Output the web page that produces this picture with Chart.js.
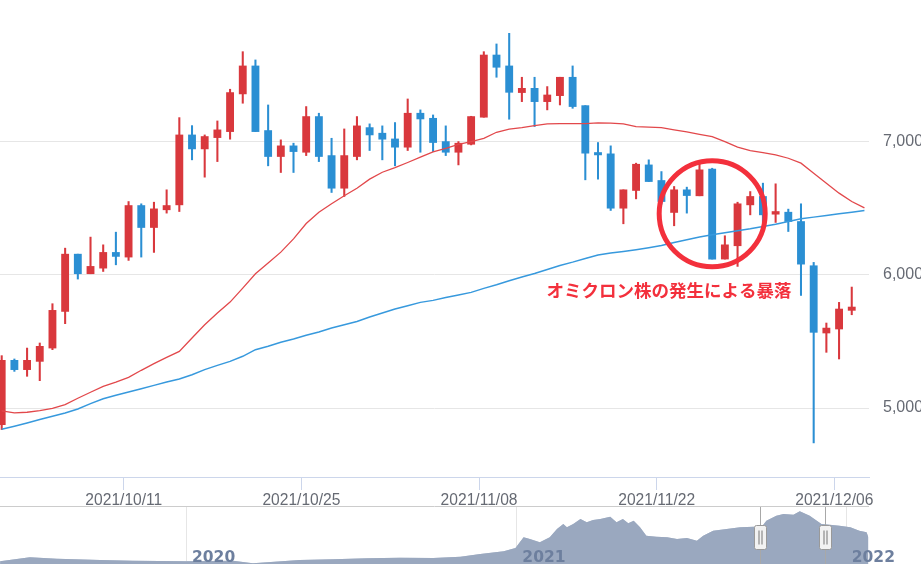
<!DOCTYPE html>
<html lang="ja">
<head>
<meta charset="utf-8">
<title>BTC/JPY 日足</title>
<script src="https://cdn.jsdelivr.net/npm/chart.js@4.4.1/dist/chart.umd.min.js"></script>
<style>
  html, body { margin: 0; padding: 0; background: #fff; width: 921px; height: 564px; overflow: hidden; }
  #main { position: absolute; left: 0; top: 0; }
  #nav { position: absolute; left: 0; top: 506px; }
</style>
</head>
<body>
<canvas id="main" width="940" height="508" style="width:940px;height:508px"></canvas>
<canvas id="nav" width="921" height="58" style="width:921px;height:58px"></canvas>
<script>
// 日付（カテゴリ）
const dates = [
  '2021/10/01','2021/10/02','2021/10/03','2021/10/04','2021/10/05','2021/10/06','2021/10/07','2021/10/08','2021/10/09','2021/10/10',
  '2021/10/11','2021/10/12','2021/10/13','2021/10/14','2021/10/15','2021/10/16','2021/10/17','2021/10/18','2021/10/19','2021/10/20',
  '2021/10/21','2021/10/22','2021/10/23','2021/10/24','2021/10/25','2021/10/26','2021/10/27','2021/10/28','2021/10/29','2021/10/30',
  '2021/10/31','2021/11/01','2021/11/02','2021/11/03','2021/11/04','2021/11/05','2021/11/06','2021/11/07','2021/11/08','2021/11/09',
  '2021/11/10','2021/11/11','2021/11/12','2021/11/13','2021/11/14','2021/11/15','2021/11/16','2021/11/17','2021/11/18','2021/11/19',
  '2021/11/20','2021/11/21','2021/11/22','2021/11/23','2021/11/24','2021/11/25','2021/11/26','2021/11/27','2021/11/28','2021/11/29',
  '2021/11/30','2021/12/01','2021/12/02','2021/12/03','2021/12/04','2021/12/05','2021/12/06','2021/12/07','2021/12/08'
];

// ローソク足（千円）
const opens  = [4875,5358,5288,5350,5450,5725,6155,6008,6050,6168, 6133,6520,6355,6488,6525,7050,6945,7030,7075,7358,
                7568,7083,6888,6968,6920,7188,6895,6650,6888,7105, 7063,7020,6958,7213,7175,7000,6920,6980,7183,7650,
                7568,7368,7400,7300,7345,7483,7270,6918,6908,6500, 6633,6825,6708,6468,6638,6593,6793,6118,6218,6525,
                6588,6455,6470,6400,6068,5563,5593,5733];
const highs  = [5393,5368,5450,5488,5783,6200,6155,6283,6225,6320, 6550,6533,6545,6638,7180,7120,7050,7155,7393,7675,
                7613,7275,7013,6988,7263,7213,7025,7095,7188,7133, 7118,7143,7320,7238,7200,7118,7000,7190,7675,7733,
                7813,7483,7483,7413,7483,7568,7270,6993,6968,6638, 6838,6863,6775,6663,6658,6850,6800,6293,6545,6625,
                6688,6683,6493,6533,6093,5638,5793,5908];
const lows   = [4838,5275,5238,5205,5438,5633,5968,6008,6025,6075, 6108,6133,6168,6463,6475,6863,6733,6850,7018,7288,
                7075,6818,6768,6768,6895,6850,6618,6588,6863,6933, 6863,6818,6933,6920,6925,6895,6825,6975,7183,7483,
                7168,7300,7113,7238,7275,7250,6713,6718,6483,6383, 6570,6700,6530,6368,6463,6593,6118,6118,6063,6450,
                6393,6393,6325,5845,4738,5418,5368,5700];
const closes = [5358,5288,5358,5463,5733,6155,6008,6063,6168,6138, 6520,6355,6495,6520,7050,6945,7038,7088,7368,7568,
                7075,6888,6968,6925,7188,6888,6650,6895,7118,7050, 7018,6958,7213,7170,6993,6920,6988,7188,7650,7558,
                7370,7400,7300,7350,7483,7263,6913,6900,6500,6638, 6830,6700,6550,6638,6595,6788,6118,6225,6533,6588,
                6450,6475,6400,6080,5568,5600,5743,5758];

// 移動平均線
const ma25 = [4978,4963,4968,4980,4998,5025,5073,5118,5163,5195, 5230,5283,5333,5380,5425,5525,5625,5713,5795,5900,
              6008,6088,6170,6270,6385,6470,6533,6593,6650,6718, 6770,6805,6843,6883,6923,6950,6980,7000,7025,7070,
              7093,7105,7120,7133,7135,7135,7135,7140,7138,7133, 7113,7108,7105,7088,7073,7055,7038,7000,6958,6933,
              6918,6900,6875,6838,6763,6688,6613,6550,6503];
const ma75 = [4840,4863,4888,4913,4938,4963,4993,5033,5070,5095, 5120,5145,5170,5195,5218,5250,5288,5320,5350,5388,
              5438,5463,5493,5518,5546,5570,5600,5625,5650,5683, 5713,5743,5768,5793,5808,5830,5848,5868,5898,5925,
              5955,5983,6010,6040,6070,6095,6123,6148,6163,6175, 6188,6203,6220,6243,6263,6283,6300,6315,6330,6345,
              6363,6380,6400,6420,6433,6445,6458,6470,6483];

// 軸の目盛り
const xTickLabels = ['2021/10/11','2021/10/25','2021/11/08','2021/11/22','2021/12/06'];
const yTickValues = [5000, 6000, 7000];

// ナビゲーター（2020/01/01 からの日数, 終値の概算）
const navDays   = [-206,-173,-143,-95,-59,0,52,74,126,163, 201,237,274,304,326,352,365,374,381,392,
                   403,411,418,422,429,437,444,451,459,470, 477,484,490,496,503,510,521,533,544,555,
                   566,573,584,599,614,629,636,643,654,662, 673,680,691,704,713,724,736,746,754,756];
const navValues = [378,938,742,560,462,378,462,98,560,658, 798,882,840,1022,1400,1778,2240,3738,3500,3038,
                   3738,4900,5600,5138,5600,6300,5838,6160,6300,6622, 5838,6300,5698,6062,5138,3962,3822,3738,3500,3640,
                   3262,3962,4662,4900,5138,5222,4900,6062,6762,7000, 6902,7378,6762,5600,5502,5362,5138,4662,4438,3738];
const navYearDays   = [0, 366, 731];
const navYearLabels = ['2020', '2021', '2022'];
const navWindow = [636, 707.5];

const UP_COLOR = '#d9383d';
const DOWN_COLOR = '#2b8fd3';
const NOTE_COLOR = '#f3303c';
const LABEL_COLOR = '#666a73';
const TICK_SHIFT = 0.375; // 日本時間の0時（UTC足に対して9時間前）

const candleColors = closes.map((c, i) => (c >= opens[i] ? UP_COLOR : DOWN_COLOR));

// 注釈：円と文字
const note = { circleDate: '2021/11/26', circleValue: 6458, radius: 53,
               text: 'オミクロン株の発生による暴落', textX: 52.6, textValue: 5884 };

const noteLayer = {
  id: 'noteLayer',
  afterDatasetsDraw(chart) {
    const { ctx, scales: { x, y } } = chart;
    ctx.save();
    ctx.strokeStyle = NOTE_COLOR;
    ctx.lineWidth = 5;
    ctx.beginPath();
    ctx.arc(x.getPixelForValue(dates.indexOf(note.circleDate)), y.getPixelForValue(note.circleValue),
            note.radius, 0, Math.PI * 2);
    ctx.stroke();
    ctx.fillStyle = NOTE_COLOR;
    ctx.font = 'bold 17.5px "Noto Sans CJK JP"';
    ctx.textAlign = 'center';
    ctx.textBaseline = 'middle';
    ctx.fillText(note.text, x.getPixelForValue(note.textX), y.getPixelForValue(note.textValue));
    ctx.restore();
  }
};

new Chart(document.getElementById('main'), {
  type: 'bar',
  data: {
    datasets: [
      {
        type: 'line', label: 'MA25', order: 0,
        data: ma25.map((v, i) => ({ x: i, y: v })),
        borderColor: '#e2484b', borderWidth: 1.3, pointRadius: 0, tension: 0
      },
      {
        type: 'line', label: 'MA75', order: 1,
        data: ma75.map((v, i) => ({ x: i, y: v })),
        borderColor: '#3799dd', borderWidth: 1.5, pointRadius: 0, tension: 0
      },
      {
        label: 'ヒゲ', order: 3, grouped: false,
        data: lows.map((l, i) => ({ x: i, y: [l, highs[i]] })),
        backgroundColor: candleColors, barThickness: 1.4
      },
      {
        label: '実体', order: 2, grouped: false,
        data: opens.map((o, i) => ({ x: i, y: [o, closes[i]] })),
        backgroundColor: candleColors, barThickness: 7.2, minBarLength: 1.5
      }
    ]
  },
  options: {
    responsive: false,
    animation: false,
    events: [],
    layout: { padding: 0 },
    plugins: { legend: { display: false }, tooltip: { enabled: false } },
    scales: {
      x: {
        type: 'linear', offset: false,
        min: -0.134, max: 68.36,
        grid: { offset: false, drawOnChartArea: false, drawTicks: true, tickLength: 13, color: '#ccd6eb' },
        border: { display: true, color: '#ccd6eb' },
        ticks: {
          autoSkip: false, maxRotation: 0, minRotation: 0, padding: 1,
          color: LABEL_COLOR, font: { family: 'Liberation Sans', size: 15.6 },
          callback: (value, index) => xTickLabels[index]
        },
        afterBuildTicks: (s) => { s.ticks = xTickLabels.map(l => ({ value: dates.indexOf(l) - TICK_SHIFT })); },
        afterFit: (s) => { s.height = 31; s.paddingLeft = 0; s.paddingRight = 0; }
      },
      y: {
        position: 'right',
        min: 4482, max: 8063,
        grid: { color: '#e6e6e6', drawTicks: false },
        border: { display: false },
        ticks: {
          padding: 14, color: LABEL_COLOR, font: { family: 'Liberation Sans', size: 16 },
          callback: (v) => v.toLocaleString('en-US')
        },
        afterBuildTicks: (s) => { s.ticks = yTickValues.map(v => ({ value: v })); },
        afterFit: (s) => { s.width = 71; s.paddingTop = 0; s.paddingBottom = 0; }
      }
    }
  },
  plugins: [noteLayer]
});

// ナビゲーターの装飾（年の区切り、選択範囲、ハンドル）
const navLayer = {
  id: 'navLayer',
  beforeDatasetsDraw(chart) {
    const { ctx, chartArea: a, scales: { x } } = chart;
    ctx.save();
    ctx.strokeStyle = '#e6e6e6';
    ctx.lineWidth = 1;
    navYearDays.forEach(d => {
      const px = Math.round(x.getPixelForValue(d)) + 0.5;
      ctx.beginPath(); ctx.moveTo(px, a.top); ctx.lineTo(px, a.bottom); ctx.stroke();
    });
    ctx.restore();
  },
  beforeDatasetDraw(chart, args) {
    if (args.index !== 1) return;
    const { ctx, chartArea: a, scales: { x } } = chart;
    const x0 = x.getPixelForValue(navWindow[0]);
    const x1 = x.getPixelForValue(navWindow[1]);
    ctx.save();
    ctx.beginPath(); ctx.rect(x0, a.top, x1 - x0, a.bottom - a.top); ctx.clip();
  },
  afterDatasetDraw(chart, args) {
    if (args.index === 1) chart.ctx.restore();
  },
  afterDatasetsDraw(chart) {
    const { ctx, chartArea: a, scales: { x } } = chart;
    ctx.save();
    // 上の枠線
    ctx.strokeStyle = '#cccccc';
    ctx.lineWidth = 1;
    ctx.beginPath(); ctx.moveTo(a.left, 0.5); ctx.lineTo(a.right, 0.5); ctx.stroke();
    // 年ラベル
    ctx.fillStyle = '#6d7f9e';
    ctx.font = 'bold 15.5px "DejaVu Sans"';
    ctx.textAlign = 'left';
    ctx.textBaseline = 'alphabetic';
    navYearDays.forEach((d, i) => {
      ctx.fillText(navYearLabels[i], x.getPixelForValue(d) + 6, a.bottom - 1.8);
    });
    // 選択範囲の縦線とハンドル
    navWindow.forEach(d => {
      const px = Math.round(x.getPixelForValue(d)) + 0.5;
      ctx.strokeStyle = '#a8a8a8';
      ctx.beginPath(); ctx.moveTo(px, a.top); ctx.lineTo(px, a.bottom); ctx.stroke();
      const top = 19.5, h = 24, w = 12;
      ctx.fillStyle = '#f2f2f2';
      ctx.strokeStyle = '#999999';
      ctx.beginPath();
      ctx.roundRect(px - w / 2, top, w, h, 2);
      ctx.fill(); ctx.stroke();
      ctx.strokeStyle = '#777777';
      ctx.beginPath();
      ctx.moveTo(px - 1.5, top + 5); ctx.lineTo(px - 1.5, top + h - 5);
      ctx.moveTo(px + 1.5, top + 5); ctx.lineTo(px + 1.5, top + h - 5);
      ctx.stroke();
    });
    ctx.restore();
  }
};

const navPoints = navDays.map((d, i) => ({ x: d, y: navValues[i] }));

new Chart(document.getElementById('nav'), {
  type: 'line',
  data: {
    datasets: [
      { data: navPoints, fill: 'origin', backgroundColor: '#9aa8bf', borderWidth: 0, pointRadius: 0, tension: 0 },
      { data: navPoints, fill: 'origin', backgroundColor: '#bcc6d6', borderWidth: 0, pointRadius: 0, tension: 0 }
    ]
  },
  options: {
    responsive: false,
    animation: false,
    events: [],
    layout: { padding: { top: 1, right: 52, left: 0, bottom: 0 } },
    plugins: { legend: { display: false }, tooltip: { enabled: false } },
    scales: {
      x: { type: 'linear', display: false, min: -206.1, max: 756.7 },
      y: { display: false, min: 0, max: 7980 }
    }
  },
  plugins: [navLayer]
});
</script>
</body>
</html>
